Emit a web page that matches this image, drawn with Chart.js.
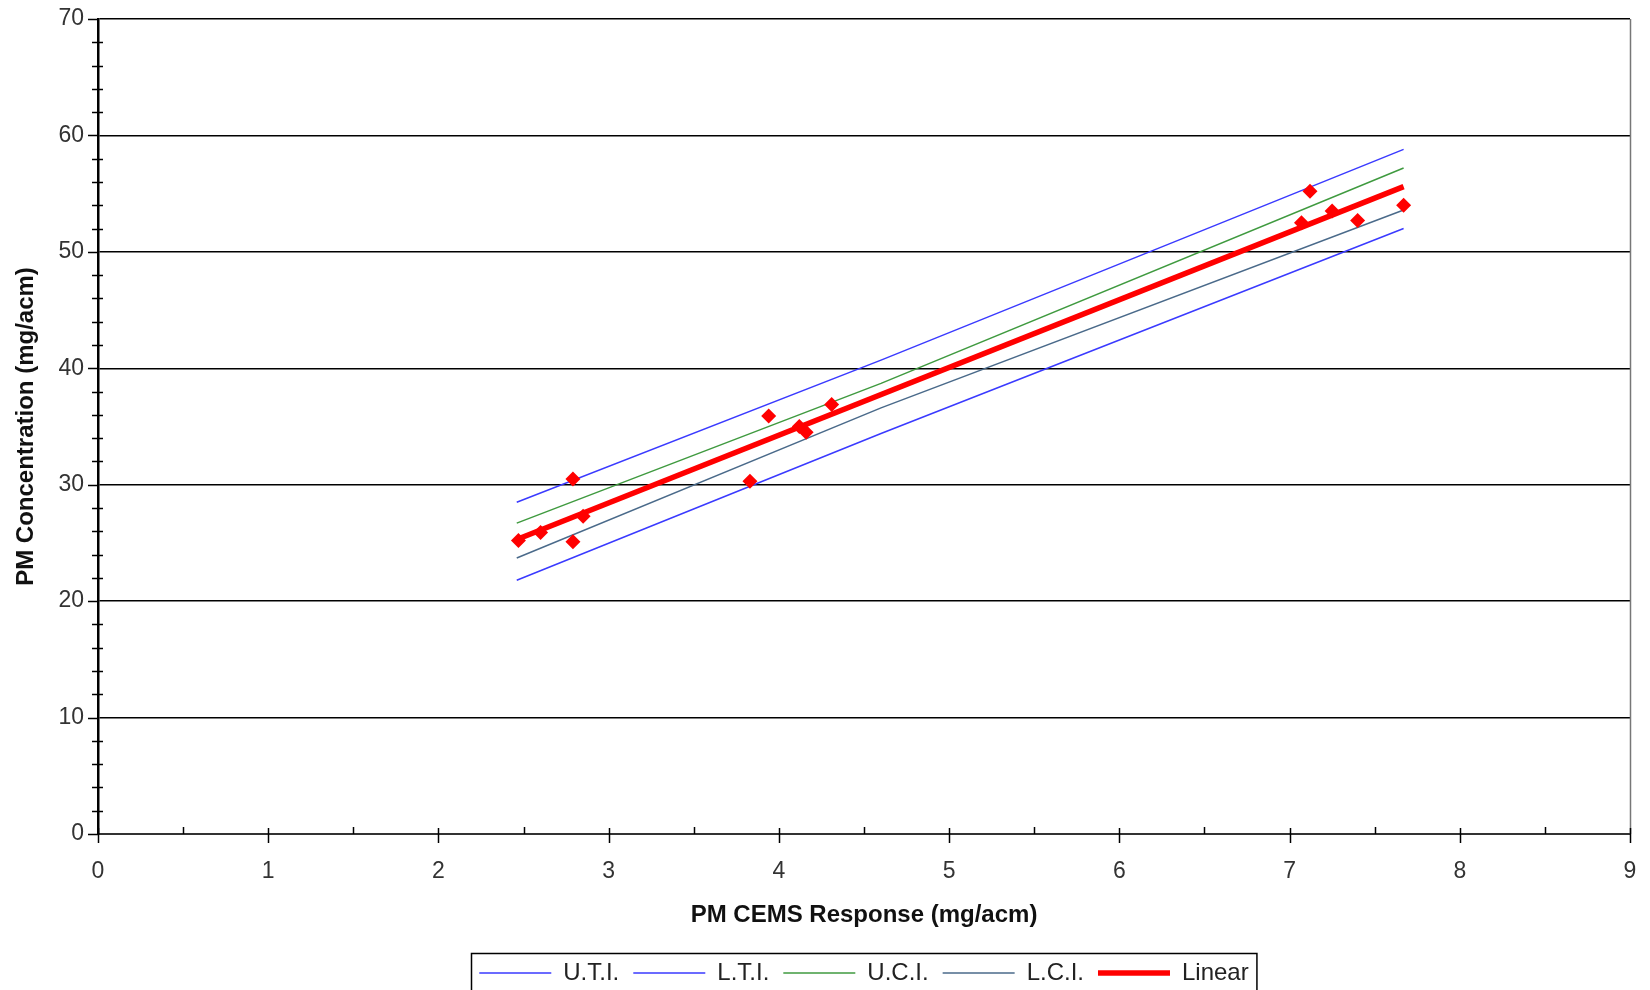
<!DOCTYPE html>
<html>
<head>
<meta charset="utf-8">
<script src="https://cdn.jsdelivr.net/npm/chart.js@4/dist/chart.umd.min.js"></script>
<style>
  html, body { margin: 0; padding: 0; background: #fff; }
  #wrap { width: 1650px; height: 990px; }
</style>
</head>
<body>
<div id="wrap"><canvas id="myChart-PM-Correlation"></canvas></div>
<script>
// measured runs: CEMS response vs reference concentration (mg/acm)
const pmCems = [2.47, 2.60, 2.79, 2.79, 2.85, 3.83, 3.94, 4.12, 4.16, 4.31, 7.07, 7.12, 7.25, 7.40, 7.67];
const pmConc = [25.2, 25.9, 30.5, 25.1, 27.3, 30.3, 35.9, 35.0, 34.5, 36.9, 52.5, 55.2, 53.5, 52.7, 54.0];

// regression line and interval bands, read at the start, middle and end
const bandX = [2.46, 4.6, 7.67];
const linearX = [2.46, 7.67];
const linearY = [25.3, 55.6];
const utiY = [28.5, 40.7, 58.8];
const ltiY = [21.8, 34.4, 52.0];
const uciY = [26.7, 38.7, 57.2];
const lciY = [23.7, 36.6, 53.6];

const yMin = 0, yMax = 70, yMajor = 10, yMinor = 2;
const xMin = 0, xMax = 9, xMajor = 1, xMinor = 0.5;

const FONT = "'Liberation Sans', Arial, sans-serif";

const toPts = (xs, ys) => xs.map((x, i) => ({ x: x, y: ys[i] }));

const axisMarks = {
  id: 'axisMarks',
  afterDraw(chart) {
    const { ctx, chartArea: a, scales: { x, y } } = chart;
    ctx.save();
    ctx.lineWidth = 1.5;
    // right frame
    ctx.strokeStyle = '#777';
    ctx.beginPath();
    ctx.moveTo(a.right + 0.5, a.top);
    ctx.lineTo(a.right + 0.5, a.bottom);
    ctx.stroke();
    ctx.strokeStyle = '#000';
    for (let v = yMin; v <= yMax; v += yMinor) {
      const py = Math.round(y.getPixelForValue(v)) + 0.5;
      ctx.beginPath();
      if (v % yMajor === 0) { ctx.moveTo(a.left - 10, py); ctx.lineTo(a.left, py); }
      else { ctx.moveTo(a.left - 6, py); ctx.lineTo(a.left + 5, py); }
      ctx.stroke();
    }
    for (let v = xMin; v <= xMax + 1e-9; v += xMinor) {
      const px = Math.round(x.getPixelForValue(v)) + 0.5;
      ctx.beginPath();
      if (Math.abs(v % xMajor) < 1e-9) { ctx.moveTo(px, a.bottom - 6); ctx.lineTo(px, a.bottom + 9); }
      else { ctx.moveTo(px, a.bottom - 7); ctx.lineTo(px, a.bottom); }
      ctx.stroke();
    }
    // legend frame
    const lg = chart.legend;
    const hb = lg.legendHitBoxes;
    if (hb && hb.length) {
      const last = hb[hb.length - 1];
      const l = hb[0].left - 8, r = last.left + last.width + 8;
      ctx.lineWidth = 1.5;
      ctx.strokeStyle = '#000';
      ctx.strokeRect(Math.round(l) + 0.5, Math.round(lg.top + 6) + 0.5, r - l, 80);
    }
    ctx.restore();
  }
};

const ctxPm = document.getElementById('myChart-PM-Correlation');

new Chart(ctxPm, {
  type: 'scatter',
  data: {
    datasets: [
      {
        label: 'U.T.I.',
        data: toPts(bandX, utiY),
        showLine: true,
        borderColor: '#3a3aff',
        backgroundColor: '#3a3aff',
        borderWidth: 1.5,
        pointRadius: 0
      }, {
        label: 'L.T.I.',
        data: toPts(bandX, ltiY),
        showLine: true,
        borderColor: '#3a3aff',
        backgroundColor: '#3a3aff',
        borderWidth: 1.5,
        pointRadius: 0
      }, {
        label: 'U.C.I.',
        data: toPts(bandX, uciY),
        showLine: true,
        borderColor: '#3f9a3f',
        backgroundColor: '#3f9a3f',
        borderWidth: 1.5,
        pointRadius: 0
      }, {
        label: 'L.C.I.',
        data: toPts(bandX, lciY),
        showLine: true,
        borderColor: '#4a6a8a',
        backgroundColor: '#4a6a8a',
        borderWidth: 1.5,
        pointRadius: 0
      }, {
        label: 'Linear',
        data: toPts(linearX, linearY),
        showLine: true,
        borderColor: '#ff0000',
        backgroundColor: '#ff0000',
        borderWidth: 5.5,
        pointRadius: 0
      }, {
        label: 'Data',
        data: toPts(pmCems, pmConc),
        order: -1,
        pointStyle: 'rectRot',
        pointRadius: 7.5,
        backgroundColor: '#ff0000',
        borderColor: '#ff0000',
        borderWidth: 0
      }]
  },
  options: {
    responsive: true,
    maintainAspectRatio: false,
    animation: false,
    layout: { padding: { top: 19, right: 20, left: 0, bottom: -5 } },
    plugins: {
      tooltip: { enabled: false },
      legend: {
        position: 'bottom',
        fullSize: false,
        labels: {
          filter: (item) => item.text !== 'Data',
          usePointStyle: true,
          pointStyle: 'line',
          pointStyleWidth: 72,
          padding: 14,
          color: '#222',
          font: { family: FONT, size: 24 }
        }
      }
    },
    scales: {
      x: {
        type: 'linear',
        min: xMin,
        max: xMax,
        afterFit: (s) => { s.height = 113; },
        ticks: { stepSize: xMajor, padding: 0, color: '#333', font: { family: FONT, size: 23 } },
        grid: { drawOnChartArea: false, drawTicks: true, tickLength: 24, tickColor: 'rgba(0,0,0,0)' },
        border: { color: '#333', width: 2 },
        title: {
          display: true,
          text: 'PM CEMS Response (mg/acm)',
          color: '#111',
          padding: { top: 0, bottom: 17 },
          font: { family: FONT, size: 24, weight: 'bold' }
        }
      },
      y: {
        min: yMin,
        max: yMax,
        afterFit: (s) => { s.width = 98; },
        ticks: { stepSize: yMajor, padding: 0, color: '#333', font: { family: FONT, size: 23 } },
        grid: { color: '#000', lineWidth: 1.5, drawTicks: true, tickLength: 14, tickColor: 'rgba(0,0,0,0)' },
        border: { color: '#000', width: 2.5 },
        title: {
          display: true,
          text: 'PM Concentration (mg/acm)',
          color: '#111',
          padding: { top: 12, bottom: 0 },
          font: { family: FONT, size: 24, weight: 'bold' }
        }
      }
    }
  },
  plugins: [axisMarks]
});
</script>
</body>
</html>
